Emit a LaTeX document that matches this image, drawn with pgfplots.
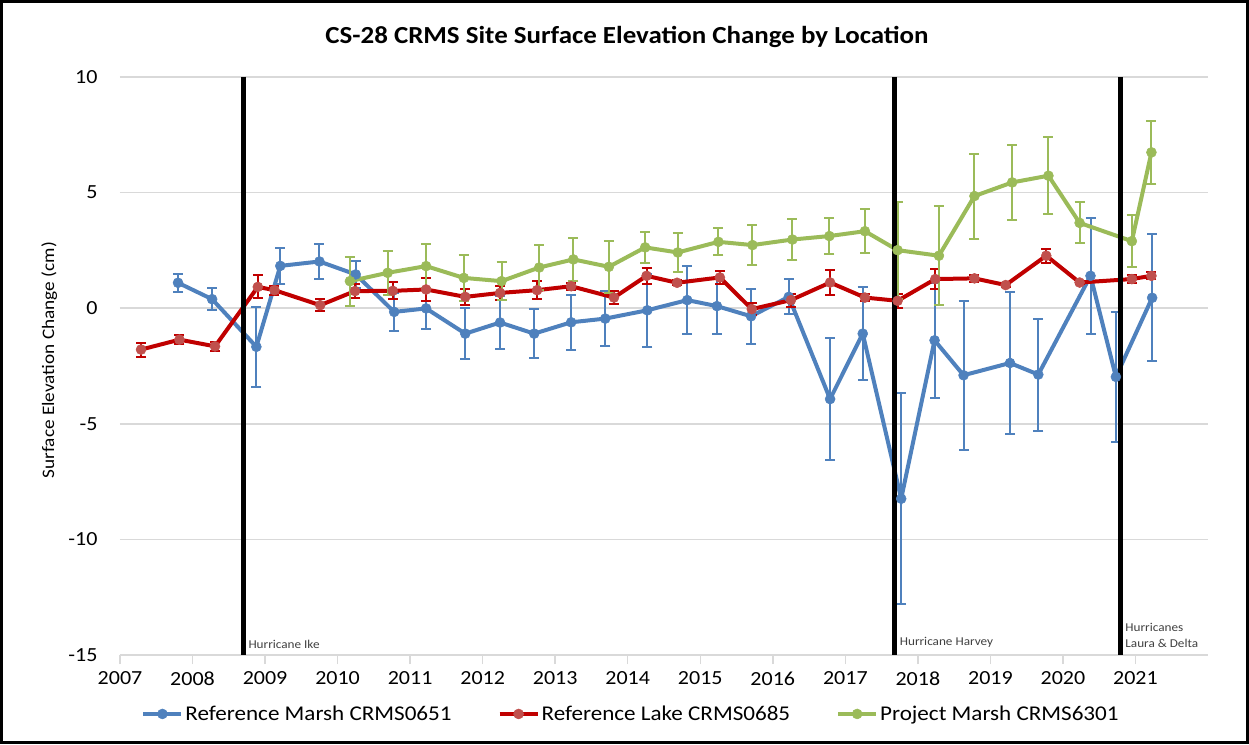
\documentclass[border=0pt]{standalone}
\usepackage{pgfplots}
\pgfplotsset{compat=1.18}
\usepackage{pgfplotstable}
\usepackage{fontspec}
\setmainfont{Carlito}[FakeStretch=1.1]
\definecolor{cblue}{HTML}{4F81BD}
\definecolor{cred}{HTML}{C00000}
\definecolor{credm}{HTML}{C0504D}
\definecolor{cgreen}{HTML}{9BBB59}
\definecolor{cgrid}{HTML}{D9D9D9}
\definecolor{ctext}{HTML}{404040}

\pgfplotstableread{
x y e
2007.80 1.10 0.40
2008.27 0.39 0.47
2008.88 -1.67 1.72
2009.21 1.83 0.79
2009.75 2.02 0.77
2010.25 1.46 0.60
2010.78 -0.16 0.82
2011.22 -0.01 0.90
2011.76 -1.10 1.09
2012.24 -0.62 1.15
2012.71 -1.10 1.06
2013.22 -0.61 1.19
2013.69 -0.45 1.20
2014.27 -0.09 1.58
2014.82 0.35 1.47
2015.23 0.09 1.20
2015.70 -0.35 1.19
2016.22 0.49 0.76
2016.79 -3.93 2.62
2017.24 -1.10 2.00
2017.77 -8.24 4.57
2018.23 -1.39 2.48
2018.63 -2.90 3.22
2019.27 -2.37 3.08
2019.66 -2.87 2.42
2020.38 1.40 2.50
2020.73 -2.97 2.82
2021.23 0.45 2.74
}\marsh

\pgfplotstableread{
x y e
2007.29 -1.79 0.30
2007.82 -1.36 0.20
2008.31 -1.65 0.20
2008.90 0.92 0.50
2009.13 0.78 0.20
2009.76 0.13 0.27
2010.24 0.74 0.30
2010.76 0.75 0.37
2011.22 0.81 0.50
2011.76 0.49 0.35
2012.24 0.66 0.30
2012.75 0.78 0.38
2013.22 0.95 0.15
2013.81 0.46 0.30
2014.26 1.40 0.36
2014.68 1.10 0.10
2015.27 1.33 0.28
2015.71 -0.04 0.27
2016.25 0.35 0.28
2016.79 1.11 0.53
2017.27 0.46 0.15
2017.72 0.32 0.30
2018.24 1.26 0.43
2018.78 1.29 0.15
2019.21 1.00 0.08
2019.77 2.27 0.30
2020.23 1.11 0.08
2020.95 1.26 0.17
2021.22 1.40 0.15
}\lake

\pgfplotstableread{
x y e
2010.17 1.17 1.06
2010.69 1.53 0.94
2011.22 1.82 0.95
2011.74 1.31 0.98
2012.26 1.17 0.83
2012.78 1.76 0.97
2013.25 2.11 0.93
2013.74 1.79 1.13
2014.24 2.63 0.66
2014.69 2.41 0.83
2015.25 2.87 0.58
2015.72 2.73 0.87
2016.27 2.97 0.90
2016.78 3.12 0.78
2017.27 3.33 0.96
2017.72 2.51 2.10
2018.29 2.27 2.13
2018.78 4.85 1.84
2019.30 5.44 1.63
2019.80 5.73 1.66
2020.23 3.69 0.89
2020.95 2.90 1.12
2021.22 6.74 1.37
}\project

\begin{document}
\begin{tikzpicture}
\begin{axis}[
  scale only axis,
  width=1088pt, height=578pt,
  xmin=2007, xmax=2022,
  ymin=-15, ymax=10,
  xtick={2007,2008,...,2021},
  ytick={-15,-10,...,10},
  /pgf/number format/1000 sep={},
  /pgf/number format/assume math mode=true,
  axis x line*=bottom,
  axis y line*=left,
  x axis line style={draw=cgrid, line width=1.5pt},
  y axis line style={draw=none},
  ymajorgrids,
  grid style={draw=cgrid, line width=1.5pt},
  xtick style={draw=cgrid, line width=1.5pt},
  ytick style={draw=none},
  tick align=outside,
  major tick length=9pt,
  ticklabel style={font=\fontsize{20}{24}\selectfont, text=black},
  yticklabel style={anchor=east, xshift=-10pt},
  xticklabel style={anchor=north, yshift=-4pt},
  ylabel={Surface Elevation Change (cm)},
  ylabel style={at={(axis description cs:-0.065,0.51)}, anchor=center, font=\fontsize{17.5}{21}\selectfont},
  clip=false,
  legend style={at={(axis description cs:0.4697,-0.102)}, anchor=center, draw=none, fill=none,
    legend columns=3, font=\fontsize{21}{25}\selectfont,
    /tikz/every even column/.append style={column sep=44pt}},
  legend image code/.code={
    \draw[#1] (0pt,0pt) -- (38pt,0pt);
    \draw[#1, mark repeat=1, mark phase=1] plot coordinates {(19pt,0pt)};
  },
]
\addplot[color=cblue, line width=4pt, mark=*, mark size=5pt,
  mark options={fill=cblue, draw=cblue, line width=0.5pt},
  error bars/.cd, y dir=both, y explicit,
  error bar style={color=cblue, line width=2pt},
  error mark options={color=cblue, line width=2pt, mark size=5pt, rotate=90}]
  table[x=x, y=y, y error=e] {\marsh};
\addlegendentry{Reference Marsh CRMS0651}
\addplot[color=cred, line width=4pt, mark=*, mark size=5pt,
  mark options={fill=credm, draw=credm, line width=0.5pt},
  error bars/.cd, y dir=both, y explicit,
  error bar style={color=cred, line width=2pt},
  error mark options={color=cred, line width=2pt, mark size=5pt, rotate=90}]
  table[x=x, y=y, y error=e] {\lake};
\addlegendentry{Reference Lake CRMS0685}
\addplot[color=cgreen, line width=4pt, mark=*, mark size=5pt,
  mark options={fill=cgreen, draw=cgreen, line width=0.5pt},
  error bars/.cd, y dir=both, y explicit,
  error bar style={color=cgreen, line width=2pt},
  error mark options={color=cgreen, line width=2pt, mark size=5pt, rotate=90}]
  table[x=x, y=y, y error=e] {\project};
\addlegendentry{Project Marsh CRMS6301}

\addplot[black, line width=5pt, forget plot] coordinates {(2008.70,10) (2008.70,-15)};
\addplot[black, line width=5pt, forget plot] coordinates {(2017.68,10) (2017.68,-15)};
\addplot[black, line width=5pt, forget plot] coordinates {(2020.79,10) (2020.79,-15)};

\node[anchor=south west, inner sep=0pt, text=ctext, font=\fontsize{12}{14}\selectfont]
  at ([xshift=5pt, yshift=6pt]axis cs:2008.70,-15) {Hurricane Ike};
\node[anchor=south west, inner sep=0pt, text=ctext, font=\fontsize{12}{14}\selectfont]
  at ([xshift=5pt, yshift=7pt]axis cs:2017.68,-15) {Hurricane Harvey};
\node[anchor=south west, inner sep=0pt, text=ctext, align=left, font=\fontsize{12}{16}\selectfont]
  at ([xshift=5pt, yshift=7pt]axis cs:2020.79,-15) {Hurricanes\\Laura \& Delta};

\node[font=\fontsize{24.5}{29}\selectfont\bfseries, anchor=center]
  at (axis description cs:0.466,1.069) {CS-28 CRMS Site Surface Elevation Change by Location};
\end{axis}
\draw[line width=3pt] ([shift={(-118.5pt,-87.5pt)}]current axis.south west)
  rectangle ([shift={(39.5pt,75.5pt)}]current axis.north east);
\end{tikzpicture}
\end{document}
